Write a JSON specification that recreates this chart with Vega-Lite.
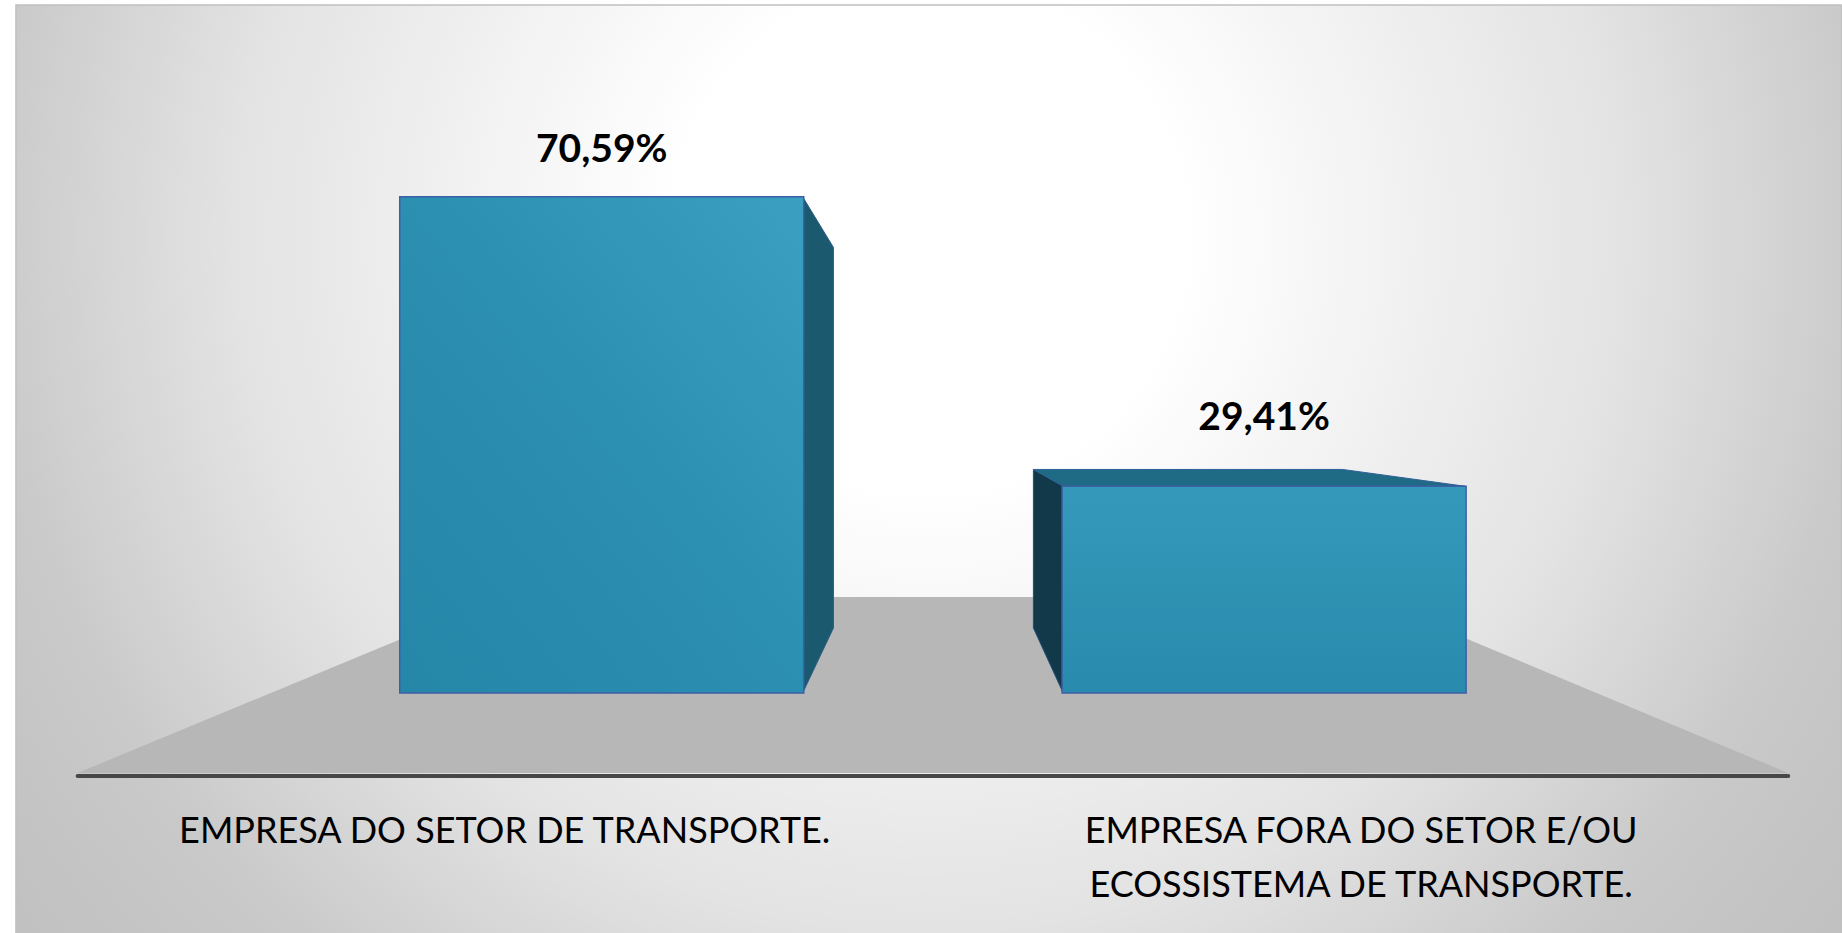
{
  "$schema": "https://vega.github.io/schema/vega-lite/v6.json",
  "width": 1842,
  "height": 933,
  "padding": 0,
  "autosize": {"type": "none"},
  "background": "#ffffff",
  "config": {
    "view": {"stroke": null},
    "locale": {"number": {"decimal": ",", "thousands": ".", "grouping": [3], "currency": ["R$", ""]}}
  },
  "datasets": {
    "bars": [
      {"category": "EMPRESA DO SETOR DE TRANSPORTE.", "pos": 1, "value": 0.7059},
      {"category": "EMPRESA FORA DO SETOR E/OU\nECOSSISTEMA DE TRANSPORTE.", "pos": 2, "value": 0.2941}
    ],
    "panel": [{"x": 0.1156, "x2": 2.872, "y": 0.9787, "y2": -0.352}],
    "floor": [
      {"edge": "back", "y": 0.1366, "x": 0.8498, "x2": 2.1547},
      {"edge": "front", "y": -0.1138, "x": 0.2087, "x2": 2.7913}
    ],
    "side1": [
      {"x": 1.3033, "y": 0.7059, "y2": 0},
      {"x": 1.3498, "y": 0.6339, "y2": 0.0925}
    ],
    "side2": [
      {"x": 1.6517, "y": 0.318, "y2": 0.0925},
      {"x": 1.6967, "y": 0.2941, "y2": 0}
    ],
    "top2": [
      {"y": 0.318, "x": 1.6517, "x2": 2.1186},
      {"y": 0.2941, "x": 1.6967, "x2": 2.3033}
    ]
  },
  "layer": [
    {
      "data": {"name": "panel"},
      "mark": {
        "type": "rect",
        "fill": {
          "gradient": "radial",
          "x1": 0.5, "y1": 0.37, "r1": 0,
          "x2": 0.5, "y2": 0.37, "r2": 0.634,
          "stops": [
            {"offset": 0, "color": "#ffffff"},
            {"offset": 0.22, "color": "#ffffff"},
            {"offset": 0.6, "color": "#e3e3e3"},
            {"offset": 0.82, "color": "#c9c9c9"},
            {"offset": 1, "color": "#c0c0c0"}
          ]
        },
        "stroke": "#c0c0c0",
        "strokeWidth": 1.5
      },
      "encoding": {
        "x": {"field": "x", "type": "quantitative", "scale": {"domain": [0.0991, 2.8649], "nice": false, "zero": false}, "axis": null},
        "x2": {"field": "x2"},
        "y": {"field": "y", "type": "quantitative", "scale": {"domain": [-0.3414, 0.9858], "nice": false, "zero": false}, "axis": null},
        "y2": {"field": "y2"}
      }
    },
    {
      "data": {"name": "floor"},
      "mark": {"type": "area", "orient": "horizontal", "color": "#b7b7b7"},
      "encoding": {
        "y": {"field": "y", "type": "quantitative", "scale": {"domain": [-0.3414, 0.9858], "nice": false, "zero": false}, "axis": null},
        "x": {"field": "x", "type": "quantitative", "stack": null, "scale": {"domain": [0.0991, 2.8649], "nice": false, "zero": false}, "axis": null},
        "x2": {"field": "x2"}
      }
    },
    {
      "data": {"name": "floor"},
      "transform": [{"filter": "datum.edge === 'front'"}],
      "mark": {"type": "rule", "color": "#474747", "strokeWidth": 4, "strokeCap": "round", "yOffset": 3},
      "encoding": {
        "x": {"field": "x", "type": "quantitative", "scale": {"domain": [0.0991, 2.8649], "nice": false, "zero": false}, "axis": null},
        "x2": {"field": "x2"},
        "y": {"field": "y", "type": "quantitative", "scale": {"domain": [-0.3414, 0.9858], "nice": false, "zero": false}, "axis": null}
      }
    },
    {
      "data": {"name": "side1"},
      "mark": {"type": "area", "orient": "vertical", "color": "#1b5a6e", "stroke": "#2c5b86", "strokeWidth": 1},
      "encoding": {
        "x": {"field": "x", "type": "quantitative", "scale": {"domain": [0.0991, 2.8649], "nice": false, "zero": false}, "axis": null},
        "y": {"field": "y", "type": "quantitative", "stack": null, "scale": {"domain": [-0.3414, 0.9858], "nice": false, "zero": false}, "axis": null},
        "y2": {"field": "y2"}
      }
    },
    {
      "data": {"name": "side2"},
      "mark": {"type": "area", "orient": "vertical", "color": "#12394a", "stroke": "#24507a", "strokeWidth": 1},
      "encoding": {
        "x": {"field": "x", "type": "quantitative", "scale": {"domain": [0.0991, 2.8649], "nice": false, "zero": false}, "axis": null},
        "y": {"field": "y", "type": "quantitative", "stack": null, "scale": {"domain": [-0.3414, 0.9858], "nice": false, "zero": false}, "axis": null},
        "y2": {"field": "y2"}
      }
    },
    {
      "data": {"name": "top2"},
      "mark": {"type": "area", "orient": "horizontal", "color": "#1f6a84", "stroke": "#2f5f95", "strokeWidth": 1},
      "encoding": {
        "y": {"field": "y", "type": "quantitative", "scale": {"domain": [-0.3414, 0.9858], "nice": false, "zero": false}, "axis": null},
        "x": {"field": "x", "type": "quantitative", "stack": null, "scale": {"domain": [0.0991, 2.8649], "nice": false, "zero": false}, "axis": null},
        "x2": {"field": "x2"}
      }
    },
    {
      "data": {"name": "bars"},
      "transform": [{"filter": "datum.pos === 1"}],
      "mark": {
        "type": "bar", "orient": "vertical", "width": 404,
        "fill": {
          "gradient": "linear", "x1": 0, "y1": 1, "x2": 1, "y2": 0,
          "stops": [
            {"offset": 0, "color": "#2586a8"},
            {"offset": 0.5, "color": "#2b8fb1"},
            {"offset": 1, "color": "#3a9fc0"}
          ]
        },
        "stroke": "#3d5fa6", "strokeWidth": 1.5
      },
      "encoding": {
        "x": {"field": "pos", "type": "quantitative", "scale": {"domain": [0.0991, 2.8649], "nice": false, "zero": false}, "axis": null},
        "y": {"field": "value", "type": "quantitative", "stack": null, "scale": {"domain": [-0.3414, 0.9858], "nice": false, "zero": false}, "axis": null},
        "y2": {"datum": 0}
      }
    },
    {
      "data": {"name": "bars"},
      "transform": [{"filter": "datum.pos === 2"}],
      "mark": {
        "type": "bar", "orient": "vertical", "width": 404,
        "fill": {
          "gradient": "linear", "x1": 0.5, "y1": 0, "x2": 0.5, "y2": 1,
          "stops": [
            {"offset": 0, "color": "#3499ba"},
            {"offset": 1, "color": "#288bad"}
          ]
        },
        "stroke": "#3d5fa6", "strokeWidth": 1.5
      },
      "encoding": {
        "x": {"field": "pos", "type": "quantitative", "scale": {"domain": [0.0991, 2.8649], "nice": false, "zero": false}, "axis": null},
        "y": {"field": "value", "type": "quantitative", "stack": null, "scale": {"domain": [-0.3414, 0.9858], "nice": false, "zero": false}, "axis": null},
        "y2": {"datum": 0}
      }
    },
    {
      "data": {"name": "bars"},
      "transform": [{"filter": "datum.pos === 1"}],
      "mark": {"type": "text", "font": "Lato", "fontSize": 39, "fontWeight": "bold", "color": "#000000", "align": "center", "baseline": "alphabetic", "dy": -35},
      "encoding": {
        "x": {"field": "pos", "type": "quantitative", "scale": {"domain": [0.0991, 2.8649], "nice": false, "zero": false}, "axis": null},
        "y": {"field": "value", "type": "quantitative", "scale": {"domain": [-0.3414, 0.9858], "nice": false, "zero": false}, "axis": null},
        "text": {"field": "value", "type": "quantitative", "format": ".2%"}
      }
    },
    {
      "data": {"name": "bars"},
      "transform": [{"filter": "datum.pos === 2"}],
      "mark": {"type": "text", "font": "Lato", "fontSize": 39, "fontWeight": "bold", "color": "#000000", "align": "center", "baseline": "alphabetic", "dy": -56},
      "encoding": {
        "x": {"field": "pos", "type": "quantitative", "scale": {"domain": [0.0991, 2.8649], "nice": false, "zero": false}, "axis": null},
        "y": {"field": "value", "type": "quantitative", "scale": {"domain": [-0.3414, 0.9858], "nice": false, "zero": false}, "axis": null},
        "text": {"field": "value", "type": "quantitative", "format": ".2%"}
      }
    },
    {
      "data": {"name": "bars"},
      "transform": [{"filter": "datum.pos === 1"}],
      "mark": {"type": "text", "font": "Lato", "fontSize": 36, "color": "#000000", "align": "center", "baseline": "alphabetic", "dx": -97, "lineBreak": "\n", "lineHeight": 54},
      "encoding": {
        "x": {"field": "pos", "type": "quantitative", "scale": {"domain": [0.0991, 2.8649], "nice": false, "zero": false}, "axis": null},
        "y": {"datum": -0.2134, "type": "quantitative", "scale": {"domain": [-0.3414, 0.9858], "nice": false, "zero": false}, "axis": null},
        "text": {"field": "category", "type": "nominal"}
      }
    },
    {
      "data": {"name": "bars"},
      "transform": [{"filter": "datum.pos === 2"}],
      "mark": {"type": "text", "font": "Lato", "fontSize": 36, "color": "#000000", "align": "center", "baseline": "alphabetic", "dx": 97, "lineBreak": "\n", "lineHeight": 54},
      "encoding": {
        "x": {"field": "pos", "type": "quantitative", "scale": {"domain": [0.0991, 2.8649], "nice": false, "zero": false}, "axis": null},
        "y": {"datum": -0.2134, "type": "quantitative", "scale": {"domain": [-0.3414, 0.9858], "nice": false, "zero": false}, "axis": null},
        "text": {"field": "category", "type": "nominal"}
      }
    }
  ]
}
